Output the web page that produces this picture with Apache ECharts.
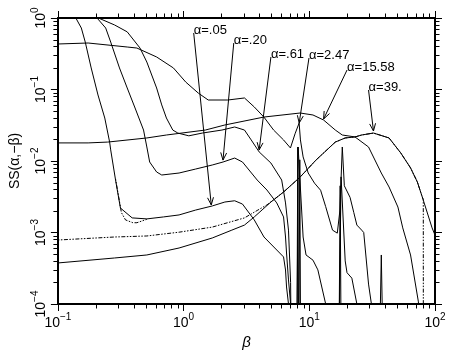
<!DOCTYPE html>
<html><head><meta charset="utf-8">
<script src="https://cdn.jsdelivr.net/npm/echarts@6/dist/echarts.min.js"></script>
<style>html,body{margin:0;padding:0;background:#fff}#c{width:454px;height:355px}</style>
</head><body><div id="c"></div>
<script>
// ---- data: [beta, SS(alpha,-beta)] ----
const a005 = [[0.128,1.3],[0.1536,0.724],[0.165,0.461],[0.184,0.200],[0.2084,0.0838],[0.236,0.0399],[0.258,0.0184],[0.263,0.0143],[0.2875,0.00542],[0.3144,0.0022],[0.3896,0.0016],[0.51,0.00155],[0.691,0.00165],[0.92,0.00176],[1.247,0.00206],[1.69,0.00235],[2.13,0.00267],[2.55,0.00278],[2.94,0.0025],[3.65,0.0015],[4.36,0.000865],[5.51,0.000569],[6.24,0.000455],[6.47,0.000299],[6.59,0.000173],[6.83,0.0001],[7.0,0.000001],[7.9,0.000001],[8.1,0.0157],[8.3,0.000001]];
const a005dot = [[0.2875,0.0056],[0.32,0.0019],[0.345,0.0015],[0.395,0.00137],[0.425,0.00137],[0.51,0.00153]];
const a020 = [[0.185,1.3],[0.2,1.05],[0.24,0.724],[0.263,0.461],[0.309,0.200],[0.356,0.105],[0.411,0.0551],[0.48,0.0271],[0.51,0.0157],[0.537,0.00968],[0.61,0.00702],[0.67,0.00637],[0.92,0.00679],[1.247,0.00772],[1.69,0.00879],[2.06,0.00968],[2.55,0.011],[2.94,0.00968],[3.85,0.00542],[4.6,0.00393],[5.51,0.00259],[6.24,0.00165],[6.47,0.000865],[6.59,0.000517],[6.83,0.000217],[7.08,0.000107],[7.2,0.000001],[8.2,0.000001],[8.4,0.0104],[8.6,0.000001],[17.0,0.000001],[17.6,0.0045],[18.1,0.000001]];
const a061 = [[0.17,1.2],[0.21,1.0],[0.282,0.8],[0.356,0.64],[0.45,0.38],[0.51,0.242],[0.61,0.105],[0.67,0.0608],[0.73,0.0399],[0.82,0.0271],[0.9,0.0246],[1.1,0.0225],[1.41,0.0246],[2.02,0.0271],[2.55,0.0299],[3.05,0.0271],[3.45,0.0197],[3.99,0.0134],[4.95,0.00937],[6.03,0.00542],[6.47,0.00259],[6.83,0.00108],[7.1,0.0002],[7.3,0.000001],[7.9,0.000001],[8.15,0.0157],[8.93,0.000865],[9.42,0.000485],[10.7,0.00041],[11.7,0.0003],[13.5,0.0001],[14,0.000001],[16.8,0.000001],[17.9,0.006],[19.3,0.0004],[19.95,0.000274],[21.8,0.00023],[23.9,0.0001],[24.5,0.000001]];
const a247 = [[0.1,0.433],[0.174,0.447],[0.356,0.393],[0.425,0.38],[0.61,0.285],[0.83,0.2],[1.04,0.127],[1.31,0.089],[1.57,0.0713],[2.25,0.0713],[3.05,0.0761],[3.65,0.057],[4.36,0.041],[5.2,0.0271],[6.24,0.0197],[7.08,0.0152],[7.7,0.024],[8.3,0.034],[8.5,0.0197],[8.93,0.0114],[9.8,0.0068],[11.0,0.0049],[12.3,0.0039],[13.5,0.0023],[15.3,0.00108],[16.7,0.00098],[17.5,0.002],[18.3,0.0157],[19.0,0.0045],[21.1,0.0031],[22.6,0.0019],[23.9,0.00127],[26.1,0.00108],[27.1,0.001],[29.6,0.00019],[31.2,0.0001],[32.5,0.000001],[35.0,0.000001],[37.4,0.000485],[39.8,0.000001]];
const a1558 = [[0.1,0.0179],[0.174,0.0179],[0.249,0.0184],[0.51,0.021],[0.73,0.0231],[1.49,0.0271],[2.13,0.0319],[4.36,0.0412],[8.46,0.0469],[10.7,0.044],[13.0,0.0374],[16.1,0.0271],[18.3,0.0231],[23.1,0.0217],[29.6,0.0157],[37.4,0.00679],[43.1,0.00433],[50.7,0.00227],[55.4,0.00116],[63.9,0.000485],[73.8,0.000107],[76,0.000001]];
const a39 = [[0.1,0.000375],[0.282,0.00044],[0.51,0.000485],[0.92,0.000607],[1.69,0.000838],[2.42,0.00108],[3.05,0.00127],[3.65,0.00165],[4.95,0.00267],[6.24,0.00368],[8.46,0.00597],[11.3,0.0103],[16.1,0.0184],[19.3,0.021],[23.1,0.0217],[26.1,0.0231],[32.4,0.0246],[43.1,0.021],[53.5,0.0129],[63.9,0.008],[72.4,0.00508],[79.2,0.00314],[94.8,0.00116],[100,0.00092]];
const a39dot = [[0.1,0.000785],[0.282,0.000865],[0.51,0.000894],[0.92,0.00101],[1.69,0.00119],[3.05,0.0016],[3.9,0.00206],[4.6,0.00243],[6.24,0.00368],[8.46,0.00597],[11.3,0.0103],[16.1,0.0184],[19.3,0.021],[23.1,0.0217],[26.1,0.0231],[32.4,0.0246],[43.1,0.021],[53.5,0.0129],[63.9,0.008],[72.4,0.00508],[79.2,0.00314],[80.7,0.0029],[80.8,0.000001]];

// annotations: label text, leader start (data), arrow tip (data)
const annLabels = ['α=.05','α=.20','α=.61','α=2.47','α=15.58','α=39.'];
const annFrom = [[1.203,0.617],[2.506,0.447],[4.95,0.285],[9.94,0.276],[19.97,0.1874],[29.6,0.0984]];
const annTo = [[1.66,0.00243],[2.058,0.0103],[3.99,0.0143],[8.31,0.034],[13.0,0.0387],[32.4,0.0263]];

const xMin = 0.1, xMax = 100, yMin = 1e-4, yMax = 1;
const xDecades = [-1,0,1], yDecades = [-4,-3,-2,-1];

const FONT = 'Liberation Sans';
const rich = {
  b:{fontSize:14, fontFamily:FONT, color:'#000', lineHeight:18, verticalAlign:'bottom'},
  s:{fontSize:10, fontFamily:FONT, color:'#000', lineHeight:10, verticalAlign:'top'}
};
const fmt = v => { const e = Math.round(Math.log10(v)); return '{b|10}{s|' + (e<0?'\u2212'+(-e):e) + '}'; };

function axisBase(extra){
  return Object.assign({
    type:'log', logBase:10,
    axisLine:{show:true, onZero:false, lineStyle:{color:'#000', width:2}},
    axisTick:{show:true, inside:false, length:7, lineStyle:{color:'#000', width:1}},
    splitLine:{show:false}, minorTick:{show:false}
  }, extra);
}

const chart = echarts.init(document.getElementById('c'), null, {renderer:'canvas'});
const solid = {color:'#000', width:1};
const dotted = {color:'#000', width:1, type:[1.5,1.5,1.5,1.5,4,1.5]};
function ser(d, ls){ return {type:'line', data:d, showSymbol:false, symbol:'none', clip:true, lineStyle:ls, silent:true, animation:false}; }

chart.setOption({
  animation:false,
  grid:{left:49, right:19, top:18, bottom:51, containLabel:false},
  xAxis:[
    axisBase({min:xMin, max:xMax, position:'bottom',
      axisLabel:{formatter:fmt, rich:rich, margin:8},
      name:'β', nameLocation:'middle', nameGap:26,
      nameTextStyle:{fontSize:15, fontStyle:'italic', fontFamily:FONT, color:'#000'}}),
    axisBase({min:xMin, max:xMax, position:'top', axisLabel:{show:false}})
  ],
  yAxis:[
    axisBase({min:yMin, max:yMax, position:'left',
      axisLabel:{formatter:fmt, rich:rich, rotate:90, margin:10},
      name:'SS(α,−β)', nameLocation:'middle', nameGap:30, nameRotate:90,
      nameTextStyle:{fontSize:14, fontFamily:FONT, color:'#000'}}),
    axisBase({min:yMin, max:yMax, position:'right', axisLabel:{show:false}})
  ],
  series:[
    ser(a005, solid), ser(a005dot, dotted), ser(a020, solid), ser(a061, solid),
    ser(a247, solid), ser(a1558, solid), ser(a39, solid), ser(a39dot, dotted)
  ]
});

// minor ticks and annotations through the chart's own scales
const X = v => chart.convertToPixel({xAxisIndex:0}, v);
const Y = v => chart.convertToPixel({yAxisIndex:0}, v);
const xl = X(xMin), xr = X(xMax), yb = Y(yMin), yt = Y(yMax);
const g = [];
const L = (x1,y1,x2,y2) => g.push({type:'line', silent:true, shape:{x1,y1,x2,y2}, style:{stroke:'#000', lineWidth:1}});
const ML = 4.5;
xDecades.forEach(d => { for (let k=2;k<=9;k++){ const x = Math.round(X(k*Math.pow(10,d)))+0.5; L(x,yb,x,yb+ML); L(x,yt,x,yt-ML); } });
yDecades.forEach(d => { for (let k=2;k<=9;k++){ const y = Math.round(Y(k*Math.pow(10,d)))+0.5; L(xl,y,xl-ML,y); L(xr,y,xr+ML,y); } });

annLabels.forEach((t,i) => {
  const x0 = X(annFrom[i][0]), y0 = Y(annFrom[i][1]);
  const x1 = X(annTo[i][0]), y1 = Y(annTo[i][1]);
  L(x0,y0,x1,y1);
  const dx = x1-x0, dy = y1-y0, len = Math.hypot(dx,dy), ux = dx/len, uy = dy/len;
  const h = 8, a = 0.38;
  const c = Math.cos(a), s = Math.sin(a);
  const ax = x1 - h*(ux*c - uy*s), ay = y1 - h*(uy*c + ux*s);
  const bx = x1 - h*(ux*c + uy*s), by = y1 - h*(uy*c - ux*s);
  g.push({type:'polyline', silent:true, shape:{points:[[ax,ay],[x1,y1],[bx,by]]}, style:{stroke:'#000', lineWidth:1, fill:null}});
  g.push({type:'text', silent:true, x:x0, y:y0-3, style:{text:t, font:'13px "Liberation Sans"', fill:'#000', verticalAlign:'middle', textVerticalAlign:'middle', align:'left'}});
});
chart.setOption({graphic:g});
</script>
</body></html>
